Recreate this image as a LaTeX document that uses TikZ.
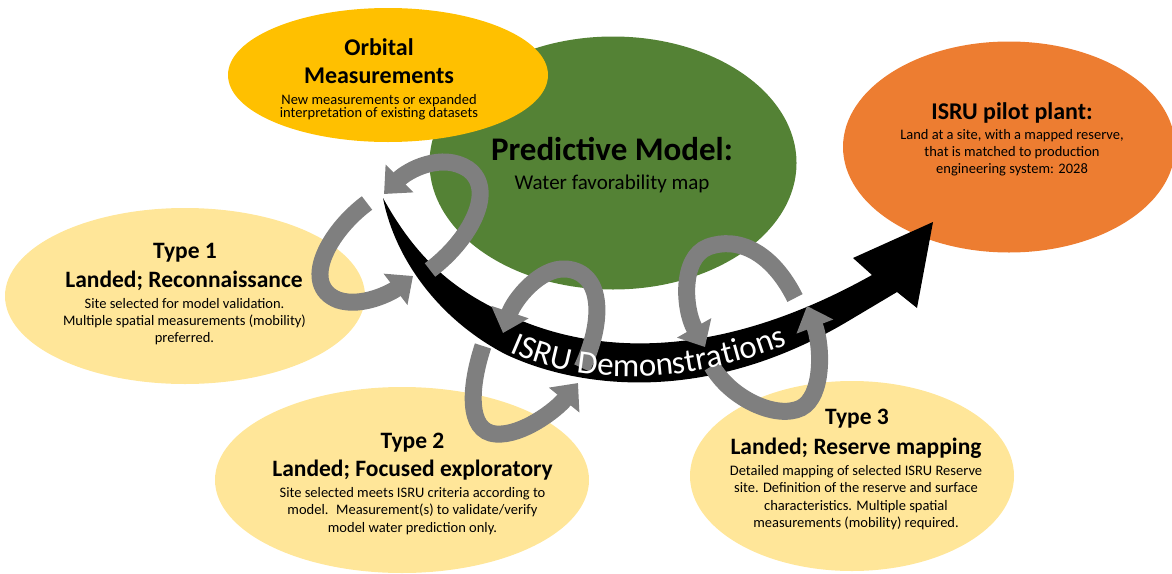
\documentclass[tikz,border=0pt]{standalone}
\usepackage{fontspec}
\setmainfont{Carlito}
\usetikzlibrary{shapes.geometric,arrows.meta,decorations.text}
\definecolor{orbitcol}{HTML}{FFC000}
\definecolor{modelcol}{HTML}{548235}
\definecolor{pilotcol}{HTML}{ED7D31}
\definecolor{typecol}{HTML}{FFE699}
\definecolor{loopcol}{HTML}{7F7F7F}
\begin{document}
\begin{tikzpicture}[x=1pt,y=-1pt,
  blob/.style={ellipse, inner sep=0pt, outer sep=0pt, draw=none},
  ttl/.style={anchor=base, inner sep=0pt, font=\bfseries\fontsize{23.5}{28}\selectfont},
  bigttl/.style={anchor=base, inner sep=0pt, font=\bfseries\fontsize{33}{36}\selectfont},
  subttl/.style={anchor=base, inner sep=0pt, font=\fontsize{21}{24}\selectfont},
  bodytxt/.style={anchor=base, inner sep=0pt, font=\fontsize{14.5}{17}\selectfont},
  loopar/.style={draw=loopcol, line width=17pt, line cap=butt, -{Triangle[width=38pt,length=22pt]}}
]
\useasboundingbox (0,0) rectangle (1172,573);

% ellipses
\node[blob, fill=typecol, minimum width=360pt, minimum height=176pt] (type1) at (185,296) {};
\node[blob, fill=typecol, minimum width=374pt, minimum height=186pt] (type2) at (402,480) {};
\node[blob, fill=typecol, minimum width=324pt, minimum height=190pt] (type3) at (852,476) {};
\node[blob, fill=modelcol, minimum width=367pt, minimum height=253pt] (model) at (613,163) {};
\node[blob, fill=orbitcol, minimum width=320pt, minimum height=134pt] (orbit) at (388,75) {};
\node[blob, fill=pilotcol, minimum width=332pt, minimum height=211pt] (pilot) at (1009,147) {};

% black curved arrow
\fill[black] (383,198) .. controls (420,265) and (460,294) .. (515,318)
  .. controls (600,355) and (720,360) .. (872,275)
  -- (853,258) -- (933,222) -- (917,308) -- (897,292) -- (850,320)
  .. controls (700,410) and (570,385) .. (505,354)
  .. controls (440,320) and (395,260) .. (383,198) -- cycle;

% gray loops
\draw[loopar] (430,270) .. controls (470,240) and (497,190) .. (468,169) .. controls (442,152) and (408,170) .. (384,194);
\draw[loopar] (367,203) .. controls (328,232) and (300,285) .. (338,300) .. controls (362,308) and (392,292) .. (413,276);

\draw[loopar] (582,368) .. controls (604,322) and (604,272) .. (566,269) .. controls (540,267) and (514,300) .. (503,333);
\draw[loopar] (483,346) .. controls (470,385) and (466,432) .. (496,434) .. controls (522,436) and (556,410) .. (578,383);

\draw[loopar] (795,298) .. controls (772,252) and (738,236) .. (708,247) .. controls (680,258) and (684,310) .. (705,347);
\draw[loopar] (712,366) .. controls (730,398) and (776,420) .. (801,408) .. controls (824,396) and (822,345) .. (807,306);

% band text
\path[decorate, decoration={text along path, text align=center,
  text={|\fontsize{33}{33}\selectfont\color{white}|ISRU Demonstrations}}]
  (505,350) .. controls (565,378) and (660,395) .. (792,343);

% texts
\node[ttl, font=\bfseries\fontsize{24}{28}\selectfont] (orbitT1) at (379,55) {Orbital};
\node[ttl, font=\bfseries\fontsize{24}{28}\selectfont] (orbitT2) at (379,83) {Measurements};
\node[bodytxt] (orbitB1) at (379,104) {New measurements or expanded};
\node[bodytxt] (orbitB2) at (379,117.5) {interpretation of existing datasets};

\node[bigttl] (modelT) at (612,160) {Predictive Model:};
\node[subttl] (modelS) at (612,189) {Water favorability map};

\node[ttl, font=\bfseries\fontsize{24}{28}\selectfont] (pilotT) at (1012,119) {ISRU pilot plant:};
\node[bodytxt] (pilotB1) at (1012,139) {Land at a site, with a mapped reserve,};
\node[bodytxt] (pilotB2) at (1012,156) {that is matched to production};
\node[bodytxt] (pilotB3) at (1012,173) {engineering system: 2028};

\node[ttl] (t1T1) at (185,258) {Type 1};
\node[ttl] (t1T2) at (184,287) {Landed; Reconnaissance};
\node[bodytxt] (t1B1) at (184.5,308) {Site selected for model validation.};
\node[bodytxt] (t1B2) at (184.5,325) {Multiple spatial measurements (mobility)};
\node[bodytxt] (t1B3) at (184.5,342) {preferred.};

\node[ttl] (t2T1) at (412.5,448) {Type 2};
\node[ttl] (t2T2) at (412.5,476) {Landed; Focused exploratory};
\node[bodytxt] (t2B1) at (412.5,497) {Site selected meets ISRU criteria according to};
\node[bodytxt] (t2B2) at (412.5,514.5) {model.~ Measurement(s) to validate/verify};
\node[bodytxt] (t2B3) at (412.5,532) {model water prediction only.};

\node[ttl] (t3T1) at (857,424) {Type 3};
\node[ttl] (t3T2) at (856,454) {Landed; Reserve mapping};
\node[bodytxt] (t3B1) at (856,475) {Detailed mapping of selected ISRU Reserve};
\node[bodytxt] (t3B2) at (856,492) {site. Definition of the reserve and surface};
\node[bodytxt] (t3B3) at (856,510) {characteristics. Multiple spatial};
\node[bodytxt] (t3B4) at (856,527) {measurements (mobility) required.};
\end{tikzpicture}
\end{document}
